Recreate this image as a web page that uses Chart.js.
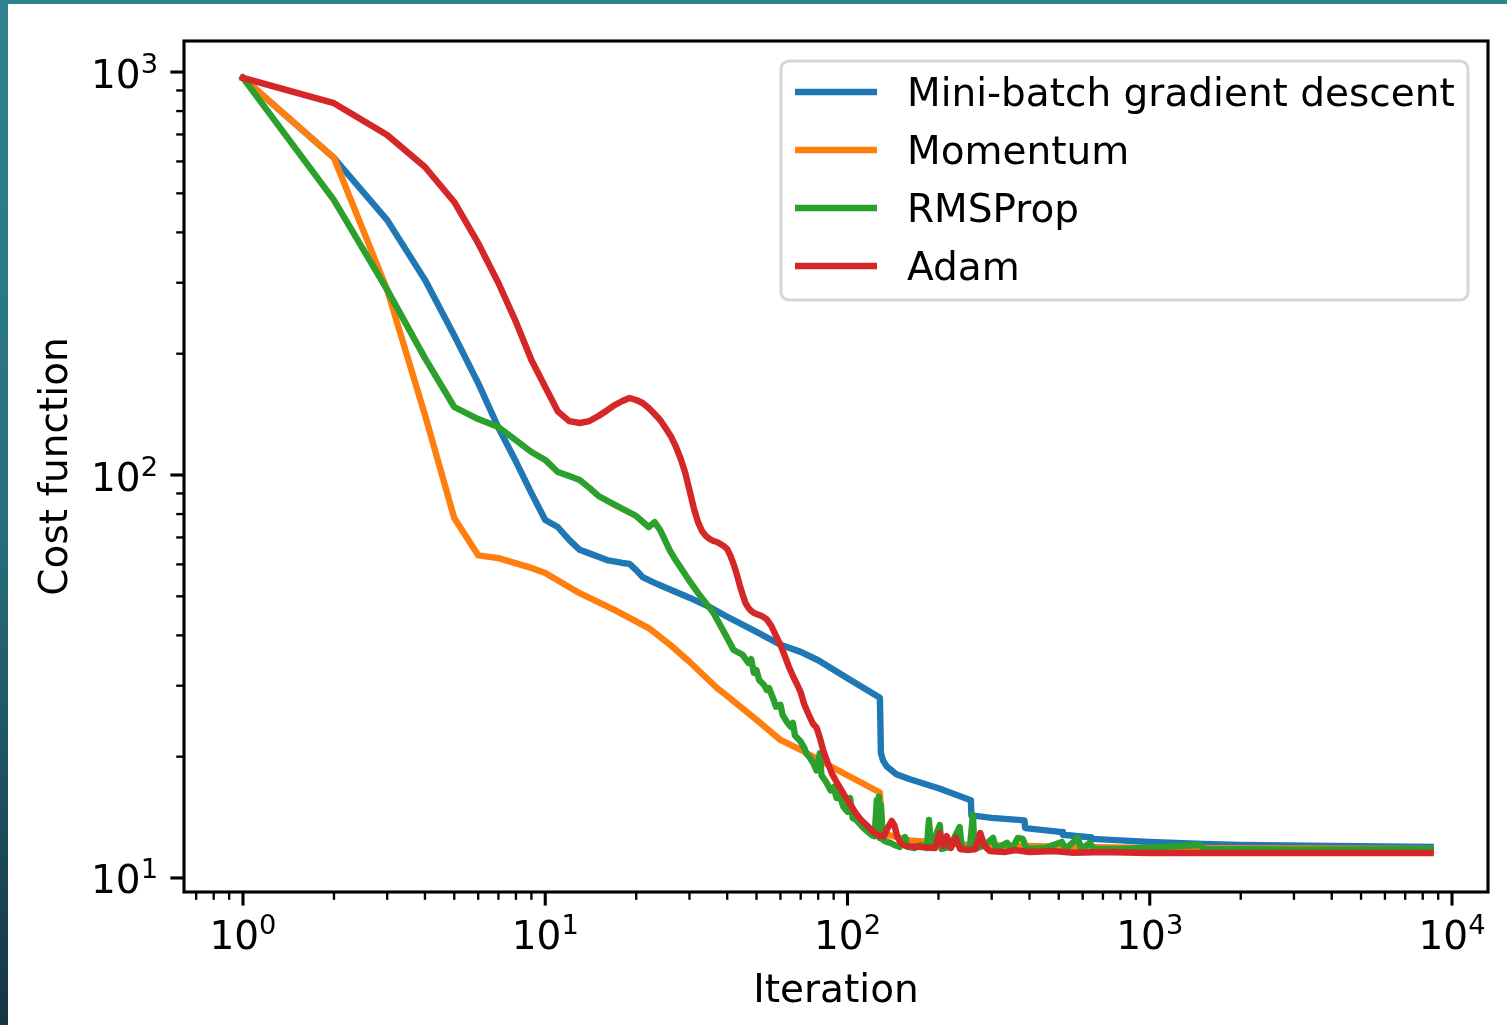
<!DOCTYPE html>
<html>
<head>
<meta charset="utf-8">
<title>Cost function vs iteration</title>
<script src="https://cdn.jsdelivr.net/npm/chart.js@4.4.1/dist/chart.umd.min.js"></script>
<style>
  html, body { margin: 0; padding: 0; }
  body {
    width: 1507px; height: 1025px; overflow: hidden; position: relative;
    background: linear-gradient(to bottom, #2f8290 0%, #27707e 50%, #163545 100%);
  }
  #wrap { position: absolute; left: 8px; top: 4px; width: 1499px; height: 1021px; background: #fff; }
  canvas { display: block; }
</style>
</head>
<body>
<div id="wrap"><canvas id="chart" width="1499" height="1021"></canvas></div>
<script>
// values (iteration, cost)
const seriesNames = ['Mini-batch gradient descent', 'Momentum', 'RMSProp', 'Adam'];
const seriesColors = ['#1f77b4', '#ff7f0e', '#2ca02c', '#d62728'];

const mbIter = [1, 2, 3, 4, 5, 6, 7, 8, 9, 10, 11, 12, 13, 14, 16, 18, 19, 20, 21, 23, 26, 30, 35, 40, 50, 60, 70, 80, 100, 128,
    129, 131, 135, 145, 160, 200, 256, 257, 300, 385, 387, 514, 516, 643, 645, 800, 1000, 1500, 2000, 4000, 8500];
const mbCost = [967, 612, 429, 305, 222, 169, 131, 108, 90.2, 77.3, 74.3, 69.0, 65.2, 63.9, 61.5, 60.5, 60.2, 58.1, 55.8, 54.0,
    51.9, 49.6, 47.0, 44.5, 40.8, 37.9, 36.4, 34.7, 31.3, 28.0, 20.4, 19.6, 18.9, 18.1, 17.6, 16.7, 15.6, 14.3, 14.1, 13.9,
    13.3, 13.0, 12.8, 12.6, 12.5, 12.4, 12.28, 12.14, 12.07, 12.0, 11.94];

const momIter = [1, 2, 3, 4, 5, 6, 7, 9, 10, 13, 17, 22, 26, 30, 37, 40, 50, 60, 70, 90, 128, 130, 160, 250, 500, 1000, 8500];
const momCost = [967, 612, 288, 141, 78.2, 63.2, 62.2, 58.8, 57.1, 50.9, 46.2, 41.7, 37.8, 34.4, 29.6, 28.3, 24.7, 22.0, 20.8,
    18.75, 16.3, 12.9, 12.4, 12.1, 11.95, 11.88, 11.8];

const rmsIter = [1, 2, 3, 4, 5, 6, 7, 8, 9, 10, 11, 12, 13, 14, 15, 17, 20, 22, 23, 24, 26, 27, 30, 32, 36, 39, 42,
    45, 47, 48, 49, 50, 51, 53, 54, 55, 57, 58, 60, 61, 63, 65, 66, 67, 70, 72, 73, 75, 77, 79, 81, 82, 85, 88, 90, 92, 94, 97,
    100, 102, 104, 107, 110, 113, 117, 120, 123, 125, 126, 127, 128, 129, 131, 135, 139, 143, 149, 155, 158, 167, 174, 183,
    186, 189, 202, 205, 218, 235, 239, 254, 260, 263, 285, 303, 310, 337, 350, 366, 380, 392, 450, 512, 527, 578, 594, 634,
    652, 800, 1465, 1515, 3130, 8500];
const rmsCost = [967, 481, 288, 195, 147.5, 137.7, 131.5, 122, 114, 109, 101.7, 99.4, 97.2, 92.9, 88.7, 84.3, 79.1, 74.3, 76.4,
    73.0, 64.4, 61.5, 54.6, 51.0, 45.5, 40.8, 36.8,
    35.8, 34.2, 34.9, 32.3, 32.8, 31.0, 30.1, 29.3, 29.6, 27.65, 26.6, 26.9, 25.4, 24.4, 23.7, 24.25, 22.6, 21.8, 21.0, 20.4,
    19.9, 19.3, 18.5, 20.4, 18.0, 17.3, 16.5, 16.8, 15.8, 16.1, 15.0, 14.6, 15.8, 14.1, 13.93, 13.6, 13.3, 13.0, 12.79, 12.7,
    15.6, 12.7, 15.9, 12.57, 15.2, 12.43, 12.29, 12.21, 12.07, 11.94, 12.64, 11.94, 11.87, 12.07, 11.87, 13.93, 11.87, 13.53,
    11.8, 11.94, 13.38, 11.8, 11.87, 14.33, 11.8, 12.07, 12.57, 11.8, 12.22, 11.8, 12.57, 12.5, 11.8, 11.87, 12.29, 11.8,
    12.57, 11.8, 12.22, 11.8, 11.8, 12.07, 11.8, 11.76, 11.78];

const adamIter = [1, 2, 3, 4, 5, 6, 7, 8, 9, 10, 11, 12, 13, 14, 15, 16, 17, 18, 19, 20, 21, 22, 23, 24, 25, 26, 27, 28, 29, 30,
    31, 32, 33, 34, 35, 36, 37, 38, 39, 40, 41, 42, 43, 44, 45, 46, 47, 48, 49, 50, 52, 54, 56, 58, 60, 62, 64, 66, 68, 70,
    72, 75, 77, 79, 81, 83, 86, 89, 92, 96, 100, 104, 107, 111, 116, 122, 128, 132, 135, 140, 143, 146, 150, 156, 170, 195,
    202, 207, 213, 220, 228, 236, 250, 265, 275, 284, 296, 330, 360, 400, 480, 560, 700, 1000, 2000, 8500];
const adamCost = [967, 837, 698, 581, 476, 376, 299.5, 239.8, 192.9, 165.3, 143.9, 136.1, 134.6, 136.1, 140.1, 144.6, 149.2,
    152.6, 155.3, 153.5, 150.9, 146.6, 141.7, 136.9, 130.8, 125.0, 118.0, 110.2, 101.7, 91.8, 82.8, 76.5, 72.6, 70.6, 69.4,
    68.6, 68.2, 67.4, 66.6, 65.5, 63.0, 60.1, 56.8, 53.3, 50.4, 48.1, 46.8, 46.0, 45.5, 45.2, 44.7, 43.9, 42.2, 39.9, 37.9,
    35.6, 33.4, 31.7, 30.3, 28.9, 26.9, 25.1, 24.1, 23.6, 22.3, 20.8, 19.3, 18.1, 17.3, 16.4, 15.6, 14.9, 14.4, 13.93, 13.5,
    13.0, 12.7, 12.7, 13.2, 13.85, 13.5, 12.7, 12.2, 12.0, 11.95, 11.87, 12.93, 12.0, 12.7, 11.87, 12.57, 11.8, 11.73, 11.8,
    12.93, 12.0, 11.66, 11.6, 11.73, 11.6, 11.66, 11.55, 11.6, 11.53, 11.53, 11.53];

// axis ticks
const xMajorTicks = [1, 10, 100, 1000, 10000];
const yMajorTicks = [10, 100, 1000];
const xRange = [0.638, 13155];
const yRange = [9.23, 1194];

const FONT = 'DejaVu Sans';
const FS = 39;
const LW = 6.4;

function toPoints(xs, ys) {
    return xs.map((v, i) => ({ x: v, y: ys[i] }));
}

function minorTicks(min, max) {
    const out = [];
    for (let e = -1; e <= 4; e++) {
        for (let m = 2; m <= 9; m++) {
            const v = m * Math.pow(10, e);
            if (v >= min && v <= max) out.push(v);
        }
    }
    return out;
}

// draws the matplotlib style frame, ticks, labels and legend
const mplPlugin = {
    id: 'mplAxes',
    afterDraw(chart) {
        const ctx = chart.ctx;
        const a = chart.chartArea;
        const xs = chart.scales.x, ys = chart.scales.y;
        ctx.save();
        ctx.strokeStyle = '#000';
        ctx.fillStyle = '#000';

        // ticks
        ctx.lineCap = 'butt';
        ctx.lineWidth = 2.35;
        minorTicks(xRange[0], xRange[1]).forEach(v => {
            const px = xs.getPixelForValue(v);
            ctx.beginPath(); ctx.moveTo(px, a.bottom); ctx.lineTo(px, a.bottom + 7.8); ctx.stroke();
        });
        minorTicks(yRange[0], yRange[1]).forEach(v => {
            const py = ys.getPixelForValue(v);
            ctx.beginPath(); ctx.moveTo(a.left, py); ctx.lineTo(a.left - 7.8, py); ctx.stroke();
        });
        ctx.lineWidth = 3.1;
        xMajorTicks.forEach(v => {
            const px = xs.getPixelForValue(v);
            ctx.beginPath(); ctx.moveTo(px, a.bottom); ctx.lineTo(px, a.bottom + 13.6); ctx.stroke();
        });
        yMajorTicks.forEach(v => {
            const py = ys.getPixelForValue(v);
            ctx.beginPath(); ctx.moveTo(a.left, py); ctx.lineTo(a.left - 13.6, py); ctx.stroke();
        });

        // frame
        ctx.lineWidth = 3.1;
        ctx.strokeRect(a.left, a.top, a.right - a.left, a.bottom - a.top);

        // tick labels 10^n
        ctx.textBaseline = 'alphabetic';
        ctx.textAlign = 'left';
        const big = FS + 'px "' + FONT + '"', small = (FS * 0.7) + 'px "' + FONT + '"';
        function label(v, anchorX, baseY, align) {
            const exp = String(Math.round(Math.log10(v)));
            ctx.font = big; const w1 = ctx.measureText('10').width;
            ctx.font = small; const w2 = ctx.measureText(exp).width;
            const x0 = align === 'center' ? anchorX - (w1 + w2) / 2 : anchorX - (w1 + w2);
            ctx.font = big; ctx.fillText('10', x0, baseY);
            ctx.font = small; ctx.fillText(exp, x0 + w1, baseY - 15);
        }
        xMajorTicks.forEach(v => label(v, xs.getPixelForValue(v), a.bottom + 57, 'center'));
        yMajorTicks.forEach(v => label(v, a.left - 26, ys.getPixelForValue(v) + 15.5, 'right'));

        // legend
        const bw = 687, bh = 239;
        const bx = a.right - 20 - bw, by = a.top + 20;
        ctx.beginPath();
        ctx.roundRect(bx, by, bw, bh, 8);
        ctx.fillStyle = 'rgba(255,255,255,0.8)';
        ctx.fill();
        ctx.lineWidth = 3;
        ctx.strokeStyle = 'rgba(204,204,204,0.8)';
        ctx.stroke();
        chart.data.datasets.forEach((ds, i) => {
            const cy = by + 31 + i * 58;
            ctx.strokeStyle = ds.borderColor;
            ctx.lineWidth = LW;
            ctx.lineCap = 'butt';
            ctx.beginPath(); ctx.moveTo(bx + 14, cy); ctx.lineTo(bx + 96, cy); ctx.stroke();
            ctx.fillStyle = '#000';
            ctx.font = big;
            ctx.fillText(ds.label, bx + 126, cy + 14);
        });
        ctx.restore();
    }
};

const allIter = [mbIter, momIter, rmsIter, adamIter];
const allCost = [mbCost, momCost, rmsCost, adamCost];

const datasets = seriesNames.map((name, i) => ({
    label: name,
    data: toPoints(allIter[i], allCost[i]),
    borderColor: seriesColors[i],
    backgroundColor: seriesColors[i],
    borderWidth: LW,
    borderJoinStyle: 'round',
    borderCapStyle: 'square',
    pointRadius: 0,
    tension: 0,
    fill: false,
    order: seriesNames.length - i
}));

// keep the log axes exactly on the picture's limits
function pinRange(range) {
    return s => { s.min = range[0]; s.max = range[1]; };
}

new Chart(document.getElementById('chart'), {
    type: 'line',
    data: { datasets: datasets },
    options: {
        responsive: false,
        animation: false,
        devicePixelRatio: 1,
        events: [],
        layout: { padding: { left: 0, top: 37, right: 19, bottom: 0 } },
        plugins: { legend: { display: false }, tooltip: { enabled: false } },
        scales: {
            x: {
                type: 'logarithmic',
                bounds: 'data',
                min: xRange[0],
                max: xRange[1],
                grid: { display: false },
                border: { display: false },
                ticks: { display: false },
                title: {
                    display: true, text: 'Iteration', color: '#000',
                    font: { family: FONT, size: FS }, padding: { top: 0, bottom: 10 }
                },
                afterBuildTicks: pinRange(xRange),
                afterFit: s => { s.height = 133; }
            },
            y: {
                type: 'logarithmic',
                bounds: 'data',
                min: yRange[0],
                max: yRange[1],
                grid: { display: false },
                border: { display: false },
                ticks: { display: false },
                title: {
                    display: true, text: 'Cost function', color: '#000',
                    font: { family: FONT, size: FS }, padding: { top: 25, bottom: 0 }
                },
                afterBuildTicks: pinRange(yRange),
                afterFit: s => { s.width = 176; }
            }
        }
    },
    plugins: [mplPlugin]
});
</script>
</body>
</html>
